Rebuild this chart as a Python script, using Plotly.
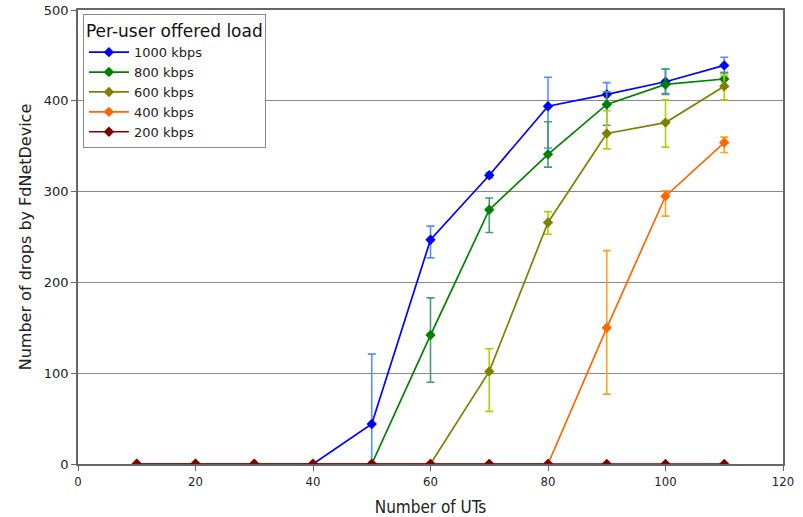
import plotly.graph_objects as go

x_uts = [10, 20, 30, 40, 50, 60, 70, 80, 90, 100, 110]

series_names = ["1000 kbps", "800 kbps", "600 kbps", "400 kbps", "200 kbps"]

drops_1000 = [0, 0, 0, 0, 44, 247, 318, 394, 407, 421, 439]
upper_1000 = [None, None, None, None, 121, 262, 321, 426, 420, 435, 448]
lower_1000 = [None, None, None, None, 0, 227, 315, 348, 396, 408, 431]

drops_800 = [0, 0, 0, 0, 0, 142, 280, 341, 396, 418, 424]
upper_800 = [None, None, None, None, None, 183, 293, 377, 410, 435, 431]
lower_800 = [None, None, None, None, None, 90, 255, 327, 373, 407, 415]

drops_600 = [0, 0, 0, 0, 0, 0, 102, 266, 364, 376, 416]
upper_600 = [None, None, None, None, None, None, 127, 278, 389, 401, 428]
lower_600 = [None, None, None, None, None, None, 58, 253, 347, 349, 401]

drops_400 = [0, 0, 0, 0, 0, 0, 0, 0, 150, 295, 354]
upper_400 = [None, None, None, None, None, None, None, None, 235, 301, 360]
lower_400 = [None, None, None, None, None, None, None, None, 77, 273, 343]

drops_200 = [0, 0, 0, 0, 0, 0, 0, 0, 0, 0, 0]
upper_200 = [None] * 11
lower_200 = [None] * 11

line_colors = ["#0000ff", "#008000", "#808000", "#ff6600", "#800000"]
err_colors = ["#5a8cff", "#4a9a70", "#aad400", "#ffa020", "#800000"]

all_vals = [drops_1000, drops_800, drops_600, drops_400, drops_200]
all_up = [upper_1000, upper_800, upper_600, upper_400, upper_200]
all_lo = [lower_1000, lower_800, lower_600, lower_400, lower_200]

fig = go.Figure()
for name, vals, up, lo, lc, ec in zip(series_names, all_vals, all_up, all_lo, line_colors, err_colors):
    plus = [None if u is None else u - v for u, v in zip(up, vals)]
    minus = [None if l is None else v - l for l, v in zip(lo, vals)]
    has_err = any(p is not None for p in plus)
    fig.add_trace(go.Scatter(
        x=x_uts, y=vals, name=name, mode="lines+markers",
        line=dict(color=lc, width=1.7),
        marker=dict(symbol="diamond", size=8, color=lc),
        error_y=dict(type="data", symmetric=False, array=plus, arrayminus=minus,
                     color=ec, thickness=1.6, width=4, visible=has_err),
    ))

fig.update_layout(
    width=803, height=517,
    margin=dict(l=78, r=20, t=10, b=53),
    paper_bgcolor="white", plot_bgcolor="white",
    font=dict(family="DejaVu Sans", size=12, color="#222"),
    showlegend=True,
    legend=dict(
        title=dict(text="Per-user offered load", font=dict(size=17, color="#111")),
        x=0.007, y=0.991, xanchor="left", yanchor="top",
        bordercolor="#888", borderwidth=1, bgcolor="white",
        font=dict(size=13, color="#222"),
        tracegroupgap=0, itemwidth=40,
    ),
    xaxis=dict(
        range=[0, 120], dtick=20, showgrid=False, zeroline=False, automargin=False,
        showline=True, linecolor="#666", linewidth=1.5, mirror=True,
        ticks="outside", ticklen=5, tickcolor="#666",
        tickfont=dict(family="DejaVu Sans Condensed", size=13),
        title=dict(text="Number of UTs", font=dict(family="DejaVu Sans Condensed", size=17), standoff=14),
    ),
    yaxis=dict(
        range=[0, 500], dtick=100, showgrid=True, gridcolor="#888", gridwidth=1.4,
        zeroline=False, automargin=False,
        showline=True, linecolor="#666", linewidth=1.5, mirror=True,
        ticks="outside", ticklen=5, tickcolor="#666",
        tickfont=dict(size=13),
        title=dict(text="Number of drops by FdNetDevice", font=dict(size=16), standoff=8),
    ),
)

fig.write_html("out.html")
